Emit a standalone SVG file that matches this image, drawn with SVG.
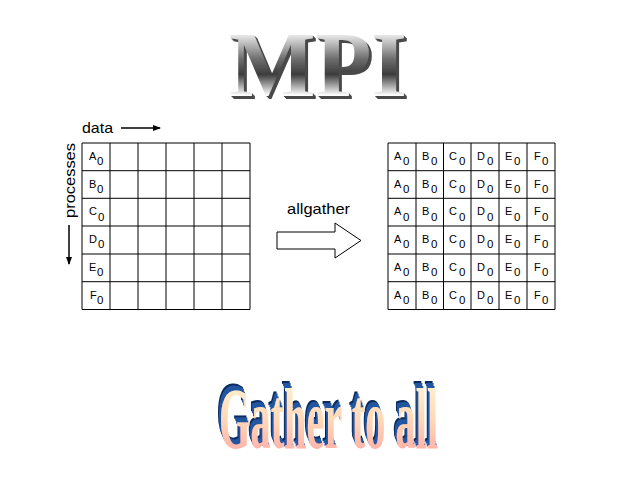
<svg xmlns="http://www.w3.org/2000/svg" width="640" height="480" viewBox="0 0 640 480">
<defs>
<linearGradient id="silver" x1="0" y1="0" x2="0" y2="1">
<stop offset="0" stop-color="#9a9a9a"/>
<stop offset="0.2" stop-color="#f4f4f4"/>
<stop offset="0.45" stop-color="#6e6e6e"/>
<stop offset="0.6" stop-color="#3c3c3c"/>
<stop offset="0.8" stop-color="#ffffff"/>
<stop offset="1" stop-color="#8a8a8a"/>
</linearGradient>
<linearGradient id="pink" x1="0" y1="0" x2="0" y2="1">
<stop offset="0" stop-color="#fffbd8"/>
<stop offset="0.5" stop-color="#ffd8b8"/>
<stop offset="1" stop-color="#ff9fa0"/>
</linearGradient>
<filter id="ext-gray" x="-20%" y="-30%" width="140%" height="160%">
<feFlood flood-color="#4a4a4a" result="c"/>
<feComposite in="c" in2="SourceAlpha" operator="in" result="sh"/>
<feOffset in="sh" dx="1" dy="1" result="o1"/>
<feOffset in="sh" dx="2" dy="2" result="o2"/>
<feOffset in="sh" dx="3" dy="3" result="o3"/>
<feMerge><feMergeNode in="o3"/><feMergeNode in="o2"/><feMergeNode in="o1"/><feMergeNode in="SourceGraphic"/></feMerge>
</filter>
<filter id="ext-blue" x="-20%" y="-40%" width="140%" height="180%">
<feFlood flood-color="#0b2a5e" result="c1"/>
<feComposite in="c1" in2="SourceAlpha" operator="in" result="d"/>
<feFlood flood-color="#2457a0" result="c2"/>
<feComposite in="c2" in2="SourceAlpha" operator="in" result="l"/>
<feOffset in="d" dx="-6" dy="-7" result="o1"/>
<feOffset in="l" dx="-4" dy="-5" result="o2"/>
<feOffset in="l" dx="-2" dy="-2" result="o3"/>
<feMerge><feMergeNode in="o1"/><feMergeNode in="o2"/><feMergeNode in="o3"/><feMergeNode in="SourceGraphic"/></feMerge>
</filter>
<marker id="ah" markerWidth="8" markerHeight="6" refX="7" refY="3" orient="auto" markerUnits="userSpaceOnUse">
<path d="M0,0 L8,3 L0,6 Z" fill="#000"/>
</marker>
<style>
.grid{stroke:#000;stroke-width:1;fill:none}
.lbl{font-family:"Liberation Sans",Arial,sans-serif;font-size:11px;fill:#000}
.sub{font-family:"Liberation Sans",Arial,sans-serif;font-size:11.5px;fill:#000}
.txt{font-family:"Liberation Sans",Arial,sans-serif;font-size:15px;fill:#000}
</style>
</defs>
<rect width="640" height="480" fill="#fff"/>

<g id="title">
<text x="229" y="96" font-family="'Liberation Serif',serif" font-weight="bold" font-size="94" fill="url(#silver)" filter="url(#ext-gray)" textLength="178" lengthAdjust="spacingAndGlyphs">MPI</text>
</g>

<g id="left-grid">
<path class="grid" d="M82,143 H250 M82,170.7 H250 M82,198.3 H250 M82,226 H250 M82,254 H250 M82,281.7 H250 M82,309.5 H250 M82,143 V309.5 M110,143 V309.5 M138,143 V309.5 M166,143 V309.5 M194,143 V309.5 M222,143 V309.5 M250,143 V309.5"/>
<g class="lbl">
<text x="89" y="160">A</text><text x="89" y="188">B</text><text x="89" y="215">C</text><text x="89" y="243">D</text><text x="89" y="271">E</text><text x="90" y="299">F</text>
</g>
<g class="sub">
<text x="97" y="165">0</text><text x="97" y="193">0</text><text x="98" y="221">0</text><text x="98" y="248">0</text><text x="97" y="276">0</text><text x="97" y="304">0</text>
</g>
</g>

<g id="right-grid">
<path class="grid" d="M388,143 H555 M388,170.7 H555 M388,198.3 H555 M388,226 H555 M388,254 H555 M388,281.7 H555 M388,309.5 H555 M388,143 V309.5 M416,143 V309.5 M443.5,143 V309.5 M471,143 V309.5 M499,143 V309.5 M527,143 V309.5 M555,143 V309.5"/>
<g class="lbl">
<text x="394" y="160">A</text><text x="422" y="160">B</text><text x="449" y="160">C</text><text x="477" y="160">D</text><text x="505" y="160">E</text><text x="534" y="160">F</text>
<text x="394" y="188">A</text><text x="422" y="188">B</text><text x="449" y="188">C</text><text x="477" y="188">D</text><text x="505" y="188">E</text><text x="534" y="188">F</text>
<text x="394" y="215">A</text><text x="422" y="215">B</text><text x="449" y="215">C</text><text x="477" y="215">D</text><text x="505" y="215">E</text><text x="534" y="215">F</text>
<text x="394" y="243">A</text><text x="422" y="243">B</text><text x="449" y="243">C</text><text x="477" y="243">D</text><text x="505" y="243">E</text><text x="534" y="243">F</text>
<text x="394" y="271">A</text><text x="422" y="271">B</text><text x="449" y="271">C</text><text x="477" y="271">D</text><text x="505" y="271">E</text><text x="534" y="271">F</text>
<text x="394" y="299">A</text><text x="422" y="299">B</text><text x="449" y="299">C</text><text x="477" y="299">D</text><text x="505" y="299">E</text><text x="534" y="299">F</text>
</g>
<g class="sub">
<text x="403" y="165">0</text><text x="431" y="165">0</text><text x="459" y="165">0</text><text x="487" y="165">0</text><text x="514" y="165">0</text><text x="542" y="165">0</text>
<text x="403" y="193">0</text><text x="431" y="193">0</text><text x="459" y="193">0</text><text x="487" y="193">0</text><text x="514" y="193">0</text><text x="542" y="193">0</text>
<text x="403" y="221">0</text><text x="431" y="221">0</text><text x="459" y="221">0</text><text x="487" y="221">0</text><text x="514" y="221">0</text><text x="542" y="221">0</text>
<text x="403" y="248">0</text><text x="431" y="248">0</text><text x="459" y="248">0</text><text x="487" y="248">0</text><text x="514" y="248">0</text><text x="542" y="248">0</text>
<text x="403" y="276">0</text><text x="431" y="276">0</text><text x="459" y="276">0</text><text x="487" y="276">0</text><text x="514" y="276">0</text><text x="542" y="276">0</text>
<text x="403" y="304">0</text><text x="431" y="304">0</text><text x="459" y="304">0</text><text x="487" y="304">0</text><text x="514" y="304">0</text><text x="542" y="304">0</text>
</g>
</g>

<g id="labels">
<text class="txt" x="82" y="133" textLength="31" lengthAdjust="spacingAndGlyphs">data</text>
<text class="txt" transform="translate(75,218) rotate(-90)" textLength="75" lengthAdjust="spacingAndGlyphs">processes</text>
<text class="txt" x="287" y="214" textLength="63" lengthAdjust="spacingAndGlyphs">allgather</text>
</g>

<g id="connectors">
<line x1="121" y1="128" x2="160" y2="128" stroke="#000" stroke-width="1.5" marker-end="url(#ah)"/>
<line x1="69" y1="225" x2="69" y2="264" stroke="#000" stroke-width="1.5" marker-end="url(#ah)"/>
<path d="M277,232 H335 V223 L361,240.5 L335,258 V249 H277 Z" fill="#fff" stroke="#000" stroke-width="1"/>
</g>

<g id="subtitle">
<text transform="translate(219,448) scale(0.47,1)" x="0" y="0" font-family="'Liberation Serif',serif" font-weight="bold" font-size="86" fill="url(#pink)" filter="url(#ext-blue)">Gather to all</text>
</g>
</svg>
